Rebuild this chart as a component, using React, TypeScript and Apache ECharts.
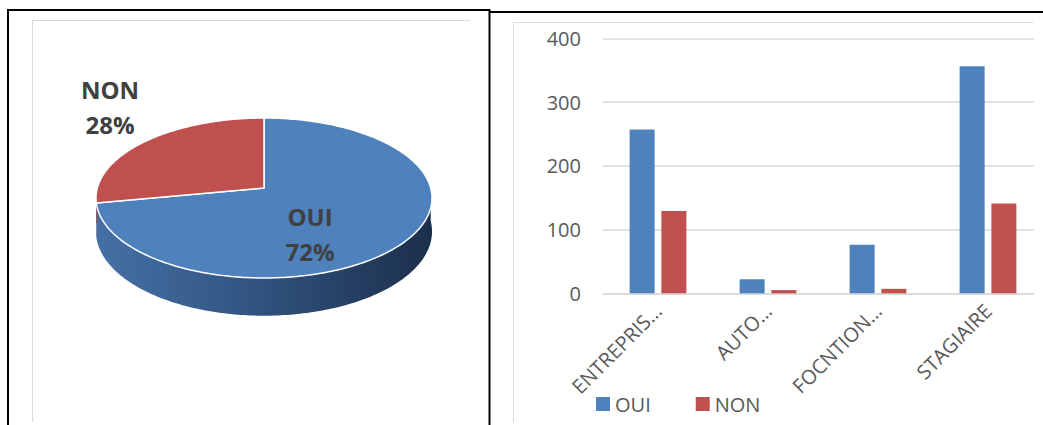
import React, { useEffect, useRef } from "react";
import * as echarts from "echarts";

// ---- Data ----
const pieLabels = ["OUI", "NON"];
const pieValues = [72, 28];

const categories = ["ENTREPRIS…", "AUTO…", "FOCNTION…", "STAGIAIRE"];
const ouiValues = [257, 22, 76, 356];
const nonValues = [129, 5, 7, 141];
const seriesNames = ["OUI", "NON"];

const yMin = 0;
const yMax = 400;
const yInterval = 100;

// ---- Styles ----
const BLUE = "#4f81bd";
const RED = "#c0504d";
const FONT = "'Open Sans', 'Noto Sans', sans-serif";

// 3D pie projection parameters
const CX = 264;
const CY = 188;
const R = 166.7;
const A = 78.75;
const P = 0.125;
const H = 33;

function proj(t: number, h: number): number[] {
  const u = Math.sin(t);
  const v = Math.cos(t);
  const d = 1 + P * v;
  return [CX + (R * u) / d, CY + (h - A * v) / d];
}

const sideGradients = [
  {
    type: "linear",
    x: CX - R,
    y: 0,
    x2: CX + R,
    y2: 0,
    global: true,
    colorStops: [
      { offset: 0, color: "#4570a5" },
      { offset: 0.45, color: "#325582" },
      { offset: 1, color: "#1c2f4b" },
    ],
  },
  {
    type: "linear",
    x: CX - R,
    y: 0,
    x2: CX + R,
    y2: 0,
    global: true,
    colorStops: [
      { offset: 0, color: "#9a403d" },
      { offset: 1, color: "#5e2220" },
    ],
  },
];
const topColors = [BLUE, RED];

export default function App() {
  const ref = useRef<HTMLDivElement>(null);

  useEffect(() => {
    if (!ref.current) return;
    const chart = echarts.init(ref.current, null, { renderer: "svg" });
    const total = pieValues.reduce((s, v) => s + v, 0);

    const renderPie = (params: any, api: any) => {
      const i = params.dataIndex;
      let start = 0;
      for (let k = 0; k < i; k++) start += pieValues[k];
      const val = api.value(0);
      const a0 = (start / total) * Math.PI * 2;
      const a1 = ((start + val) / total) * Math.PI * 2;
      const step = Math.PI / 180;
      const topPts: number[][] = [[CX, CY]];
      for (let t = a0; t < a1; t += step) topPts.push(proj(t, 0));
      topPts.push(proj(a1, 0));
      const children: any[] = [];
      const s0 = Math.max(a0, Math.PI / 2);
      const s1 = Math.min(a1, (Math.PI * 3) / 2);
      if (s1 > s0) {
        const upper: number[][] = [];
        const lower: number[][] = [];
        for (let t = s0; t < s1; t += step) {
          upper.push(proj(t, 0));
          lower.push(proj(t, H));
        }
        upper.push(proj(s1, 0));
        lower.push(proj(s1, H));
        children.push({
          type: "polygon",
          z2: 1,
          shape: { points: upper.concat(lower.reverse()) },
          style: { fill: sideGradients[i % 2] },
        });
      }
      children.push({
        type: "polygon",
        z2: 10,
        shape: { points: topPts },
        style: { fill: topColors[i % 2], stroke: "#ffffff", lineWidth: 1.5, lineJoin: "round" },
      });
      return { type: "group", children };
    };

    const pieLabelStyle = {
      fill: "#404040",
      font: `bold 24px ${FONT}`,
      align: "center",
      verticalAlign: "middle",
      lineHeight: 35,
    };

    chart.setOption({
      animation: false,
      textStyle: { fontFamily: FONT },
      grid: {
        left: 603,
        right: 0,
        top: 38.3,
        bottom: 131.7,
        containLabel: false,
      },
      legend: {
        data: seriesNames,
        left: 596,
        top: 394,
        padding: 0,
        icon: "rect",
        itemWidth: 14,
        itemHeight: 14,
        itemGap: 45,
        textStyle: { fontSize: 20, color: "#595959", fontFamily: FONT },
      },
      xAxis: {
        type: "category",
        data: categories,
        axisLine: { show: true, lineStyle: { color: "#d9d9d9", width: 1.5 } },
        axisTick: { show: false },
        axisLabel: {
          interval: 0,
          rotate: 45,
          margin: 14,
          fontSize: 20,
          color: "#595959",
          fontFamily: FONT,
        },
      },
      yAxis: {
        type: "value",
        min: yMin,
        max: yMax,
        interval: yInterval,
        axisLine: { show: false },
        axisTick: { show: false },
        axisLabel: { fontSize: 20, color: "#595959", margin: 22, fontFamily: FONT },
        splitLine: { lineStyle: { color: "#d9d9d9", width: 1.5 } },
      },
      series: [
        {
          name: seriesNames[0],
          type: "bar",
          data: ouiValues,
          barWidth: 25,
          barGap: "27%",
          itemStyle: { color: BLUE },
        },
        {
          name: seriesNames[1],
          type: "bar",
          data: nonValues,
          barWidth: 25,
          barGap: "27%",
          itemStyle: { color: RED },
        },
        {
          type: "custom",
          coordinateSystem: "none",
          silent: true,
          renderItem: renderPie,
          data: pieValues.map((v, i) => ({ name: pieLabels[i], value: [v] })),
        },
      ],
      graphic: [
        // cover right end of gridlines
        {
          type: "rect",
          z: 50,
          shape: { x: 1034, y: 16, width: 12, height: 285 },
          style: { fill: "#ffffff" },
          silent: true,
        },
        // light gray chart-area frames
        { type: "line", z: 60, shape: { x1: 32, y1: 20.5, x2: 470, y2: 20.5 }, style: { stroke: "#d9d9d9", lineWidth: 1 } },
        { type: "line", z: 60, shape: { x1: 32.5, y1: 20, x2: 32.5, y2: 422 }, style: { stroke: "#d9d9d9", lineWidth: 1 } },
        { type: "line", z: 60, shape: { x1: 513, y1: 22.5, x2: 1033, y2: 22.5 }, style: { stroke: "#d9d9d9", lineWidth: 1 } },
        { type: "line", z: 60, shape: { x1: 513.5, y1: 22, x2: 513.5, y2: 422 }, style: { stroke: "#d9d9d9", lineWidth: 1 } },
        // black table borders
        { type: "line", z: 70, shape: { x1: 7, y1: 10, x2: 490, y2: 10 }, style: { stroke: "#000000", lineWidth: 2 } },
        { type: "line", z: 70, shape: { x1: 490, y1: 12, x2: 1043, y2: 12 }, style: { stroke: "#000000", lineWidth: 2 } },
        { type: "line", z: 70, shape: { x1: 8, y1: 9, x2: 8, y2: 425 }, style: { stroke: "#000000", lineWidth: 2 } },
        { type: "line", z: 70, shape: { x1: 489.5, y1: 9, x2: 489.5, y2: 425 }, style: { stroke: "#000000", lineWidth: 2 } },
        // pie labels
        {
          type: "text",
          z: 80,
          x: 110,
          y: 106.5,
          style: { ...pieLabelStyle, text: `${pieLabels[1]}\n${pieValues[1]}%` },
        },
        {
          type: "text",
          z: 80,
          x: 310,
          y: 233.5,
          style: { ...pieLabelStyle, text: `${pieLabels[0]}\n${pieValues[0]}%` },
        },
      ],
    });

    return () => chart.dispose();
  }, []);

  return (
    <div
      ref={ref}
      style={{ position: "absolute", left: 0, top: 0, width: 1043, height: 425 }}
    />
  );
}
